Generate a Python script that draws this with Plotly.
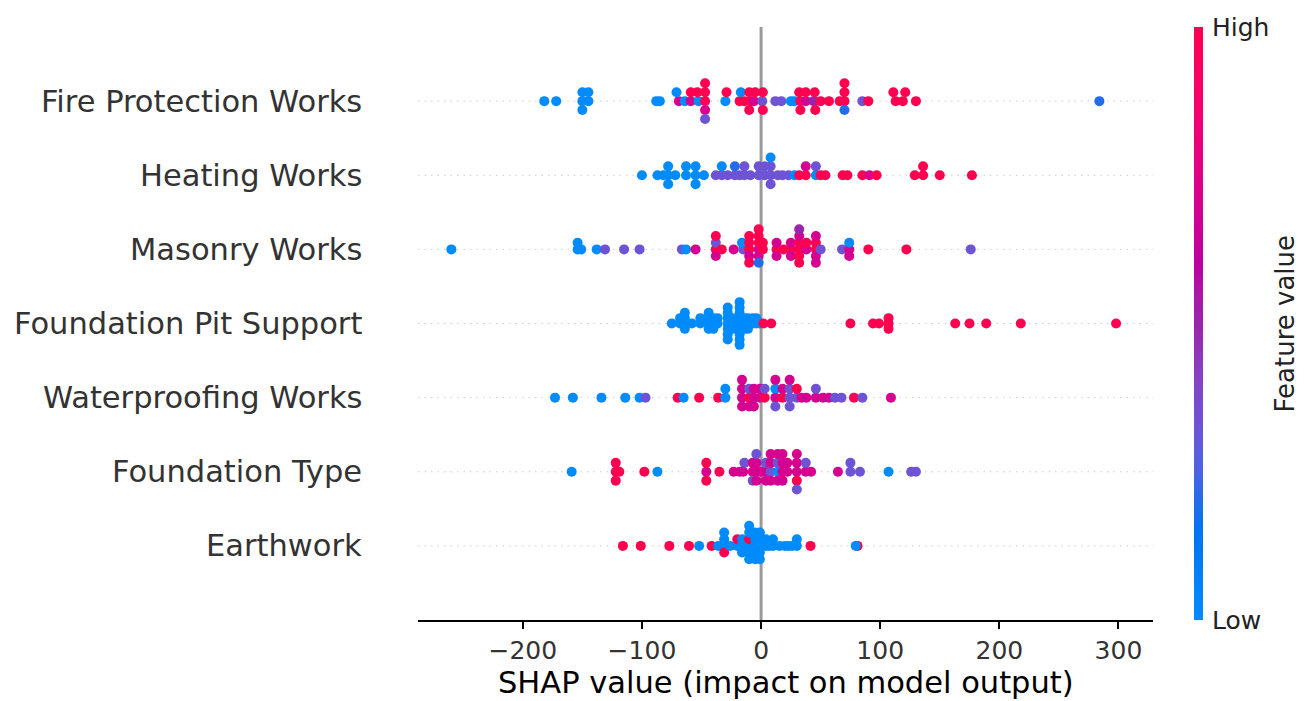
import numpy as np
import plotly.graph_objects as go

# ---------------- data ----------------
features = ["Earthwork", "Foundation Type", "Waterproofing Works", "Foundation Pit Support",
            "Masonry Works", "Heating Works", "Fire Protection Works"]  # bottom -> top

# normalised feature values (0 = Low, 1 = High)
B, PB, P, PM, M, R = 0.0, 0.2, 0.33, 0.5, 0.7, 1.0

fire_shap = [-182, -172, -150, -150, -150, -145, -145, -88, -85, -69, -71, -64, -59, -59,
             -52.5, -53.5, -47, -47, -47, -47, -47, -30, -29, -18, -17, -14, -9, -10, -10,
             -6, -5, 1, 1.5, 1.5, 12, 17, 25, 28, 33, 32, 33, 37.5, 37.5, 45, 44, 45, 45.5,
             50, 57, 66, 70, 70, 70, 70, 85, 90, 113, 111, 119, 121, 130, 284]
fire_feat = [B, B, B, B, B, B, B, B, B, M, B, B, M, R,
             B, R, R, R, M, R, P, B, R, R, B, R, R, R, R,
             M, R, P, R, R, P, P, B, B, R, R, R, M, R, R, PM, R, R,
             R, R, R, R, R, PB, R, P, R, R, R, R, R, R, PB]

heat_shap = [-100, -87, -82, -78, -78, -78, -72, -63, -63, -55, -55, -55, -48, -38, -33, -33,
             -28, -22, -22, -18, -14, -14, -9, -2, -2, 3, 3, 8, 8, 8, 8, 14, 18, 23, 28, 32,
             37.5, 37.5, 46, 46, 50, 54, 68.5, 72.5, 85, 91, 97, 129, 136, 136, 150, 177]
heat_feat = [B, B, B, B, B, B, B, B, B, B, B, B, B, P, P, B,
             P, P, PB, P, P, P, P, P, P, P, P, P, P, P, B, P, P, P, B, R,
             R, M, B, P, R, R, R, R, R, M, R, R, R, R, R, R]

mason_shap = [-260, -154, -154, -151, -138, -131, -115, -102, -66.5, -63, -55,
              -38, -38, -38, -38, -33, -23, -15, -16, -10, -10, -10, -10, -10,
              -2, -2, -2, -2, -2, -2, 1.5, 1.5, 13, 13, 13, 19, 25, 25, 25,
              32, 32, 32, 32, 32, 32, 38, 38, 46, 46, 46, 46, 46, 50, 68, 74, 74, 74,
              90, 122, 176]
mason_feat = [B, B, B, B, B, P, P, P, P, B, M,
              R, P, M, R, R, M, P, B, R, R, M, R, R,
              M, R, M, R, PB, R, R, R, R, M, M, R, R, M, M,
              R, R, R, M, R, PM, M, R, R, R, M, M, M, P, P, M, B, M,
              R, R, P]

pit_shap = [-75, -68, -68, -64, -64, -64, -64, -58, -51, -51,
            -44, -44, -44, -44, -40, -40, -40, -36.5, -36.5,
            -28, -28, -28, -28, -28, -28, -28, -24, -24, -24,
            -18, -18, -18, -18, -18, -18, -18, -18, -18,
            -14, -14, -14, -11, -11, -11, -7, -7, -4, -4, -1,
            2, 8.5, 75, 94, 99, 107, 107, 107, 163, 175, 189, 218, 298]
pit_feat = [B] * 49 + [R] * 13

water_shap = [-173, -158, -134, -114, -102, -97, -70, -65, -52, -36, -30, -30,
              -16, -16, -16, -16, -10, -10, -10, -6, -6, -6, -1, -1, 3, 3,
              12, 12, 12, 12, 18, 18, 24, 24, 24, 24, 30, 30, 34, 38, 46, 46,
              52, 57, 62, 67.5, 78, 85, 109]
water_feat = [B, B, B, B, B, P, R, B, R, R, B, B,
              M, M, M, M, R, P, M, M, M, M, M, M, R, P,
              M, B, P, M, R, M, P, P, P, M, P, R, M, M, M, P,
              M, M, P, P, R, P, M]

ftype_shap = [-159, -122, -122, -122, -119, -98, -87, -46, -46, -46, -35, -23, -18, -15, -14,
              -7, -7, -7, -4, -4, -4, -4, 0, 4, 4, 4, 8, 8, 8, 8, 14, 14, 14, 14,
              18, 18, 18, 18, 22, 22, 30, 30, 30, 30, 30, 37.5, 37.5, 42, 64.5,
              75, 75, 83, 107, 126, 130]
ftype_feat = [B, R, R, R, R, R, B, M, R, R, R, M, M, M, P,
              M, M, P, M, M, M, P, M, M, P, M, P, M, M, M, B, P, M, M,
              M, M, M, M, M, M, M, M, R, M, P, M, P, M, M,
              P, P, P, B, P, P]

earth_shap = [-116, -101, -77, -60.5, -52, -41.5, -36, -31, -31, -31, -31, -26, -20, -20,
              -16, -16, -16, -13, -10, -10, -10, -10, -10, -10,
              -5, -5, -5, -5, -5, -1, -1, -1, -1, -1, 4, 4, 7, 10, 10, 15.5, 20, 23, 26,
              30, 30, 41.5, 81, 79.5]
earth_feat = [R, R, R, R, B, R, B, B, B, R, B, B, B, R,
              B, B, B, B, B, R, B, B, B, B,
              B, B, B, B, B, B, B, B, B, B, B, B, B, B, B, B, B, B, B,
              B, B, R, R, B]

rows_shap = [earth_shap, ftype_shap, water_shap, pit_shap, mason_shap, heat_shap, fire_shap]
rows_feat = [earth_feat, ftype_feat, water_feat, pit_feat, mason_feat, heat_feat, fire_feat]

x_ticks = [-200, -100, 0, 100, 200, 300]
x_tick_text = ["\u2212200", "\u2212100", "0", "100", "200", "300"]


# ---------------- helpers ----------------
def beeswarm_offsets(vals, row_height=0.4, nbins=100):
    v = np.asarray(vals, float)
    quant = np.round(nbins * (v - v.min()) / (v.max() - v.min() + 1e-8))
    inds = np.argsort(quant, kind="stable")
    layer, last = 0, -1
    ys = np.zeros(len(v))
    for i in inds:
        if quant[i] != last:
            layer = 0
        ys[i] = np.ceil(layer / 2) * ((layer % 2) * 2 - 1)
        layer += 1
        last = quant[i]
    ys *= 0.9 * (row_height / np.max(ys + 1))
    return ys


def lch2rgb(l, c, h):
    a, b = c * np.cos(h), c * np.sin(h)
    fy = (l + 16) / 116
    fx, fz = fy + a / 500, fy - b / 200

    def finv(t):
        return t ** 3 if t > 6 / 29 else 3 * (6 / 29) ** 2 * (t - 4 / 29)

    X, Y, Z = 0.95047 * finv(fx), finv(fy), 1.08883 * finv(fz)
    rl = 3.2406 * X - 1.5372 * Y - 0.4986 * Z
    gl = -0.9689 * X + 1.8758 * Y + 0.0415 * Z
    bl = 0.0557 * X - 0.2040 * Y + 1.0570 * Z
    out = []
    for cc in (rl, gl, bl):
        cc = 1.055 * cc ** (1 / 2.4) - 0.055 if cc > 0.0031308 else 12.92 * cc
        out.append(int(round(255 * min(max(cc, 0), 1))))
    return "rgb(%d,%d,%d)" % tuple(out)


blue_lch = [54.0, 70.0, 4.6588]
red_lch = [54.0, 90.0, 0.35470565 + 2 * np.pi]
l_mid = 40.0
colorscale = []
nst = 21
for k in range(nst):
    t = k / (nst - 1)
    l = blue_lch[0] + (l_mid - blue_lch[0]) * (t / 0.5) if t <= 0.5 else l_mid + (red_lch[0] - l_mid) * ((t - 0.5) / 0.5)
    c = blue_lch[1] + (red_lch[1] - blue_lch[1]) * t
    h = blue_lch[2] + (red_lch[2] - blue_lch[2]) * t
    colorscale.append([t, lch2rgb(l, c, h)])

# ---------------- figure ----------------
xs, ys, cs = [], [], []
for pos, (sv, fv) in enumerate(zip(rows_shap, rows_feat)):
    off = beeswarm_offsets(sv)
    xs += list(sv)
    ys += list(pos + off)
    cs += list(fv)

FONT = "DejaVu Sans"
L, Rm, T, Bm = 418, 156, 27, 81
W, H = 1309, 701
pw = W - L - Rm
ph = H - T - Bm

fig = go.Figure()
fig.add_trace(go.Scatter(
    x=xs, y=ys, mode="markers",
    marker=dict(size=10, color=cs, colorscale=colorscale, cmin=0, cmax=1,
                line=dict(width=0), showscale=True,
                colorbar=dict(thickness=9, len=1, lenmode="fraction", y=0.5, yanchor="middle",
                              x=(1194 - L) / pw, xanchor="left", xpad=0, ypad=0,
                              outlinewidth=0, showticklabels=False, ticks="")),
    hoverinfo="x", showlegend=False,
))

shapes = []
for pos in range(len(features)):
    shapes.append(dict(type="line", xref="paper", yref="y", x0=0, x1=1, y0=pos, y1=pos,
                       line=dict(color="#cccccc", width=1, dash="1.5px,5px"), layer="below"))
shapes.append(dict(type="line", xref="x", yref="paper", x0=0, x1=0, y0=0, y1=1,
                   line=dict(color="#999999", width=3), layer="below"))

annotations = []
for pos, name in enumerate(features):
    annotations.append(dict(x=(364 - L) / pw, y=pos, xref="paper", yref="y", text=name,
                            showarrow=False, xanchor="right", yanchor="middle",
                            font=dict(family=FONT, size=30.5, color="#333333")))
annotations.append(dict(x=0.5, y=-(682 - (T + ph)) / ph, xref="paper", yref="paper",
                        text="SHAP value (impact on model output)", showarrow=False,
                        xanchor="center", yanchor="middle", borderpad=0,
                        font=dict(family=FONT, size=30.5, color="#000000")))
annotations.append(dict(x=(1210 - L) / pw, y=1, xref="paper", yref="paper", text="High",
                        showarrow=False, xanchor="left", yanchor="middle",
                        font=dict(family=FONT, size=25, color="#222222")))
annotations.append(dict(x=(1210 - L) / pw, y=0, xref="paper", yref="paper", text="Low",
                        showarrow=False, xanchor="left", yanchor="middle",
                        font=dict(family=FONT, size=25, color="#222222")))
annotations.append(dict(x=(1284 - L) / pw, y=0.5, xref="paper", yref="paper",
                        text="Feature value", showarrow=False, textangle=-90,
                        xanchor="center", yanchor="middle",
                        font=dict(family=FONT, size=26, color="#222222")))

fig.update_layout(
    width=W, height=H, margin=dict(l=L, r=Rm, t=T, b=Bm, autoexpand=False),
    paper_bgcolor="white", plot_bgcolor="white",
    shapes=shapes, annotations=annotations,
    xaxis=dict(range=[-288, 329], tickvals=x_ticks, ticktext=x_tick_text,
               showline=True, linecolor="black", linewidth=1.8, ticks="outside",
               ticklen=7, tickwidth=1.8, tickcolor="black", showgrid=False, zeroline=False,
               tickfont=dict(family=FONT, size=25, color="#333333")),
    yaxis=dict(range=[-1, 7], showticklabels=False, showgrid=False, zeroline=False,
               showline=False, ticks=""),
)

fig.write_html("out.html")
